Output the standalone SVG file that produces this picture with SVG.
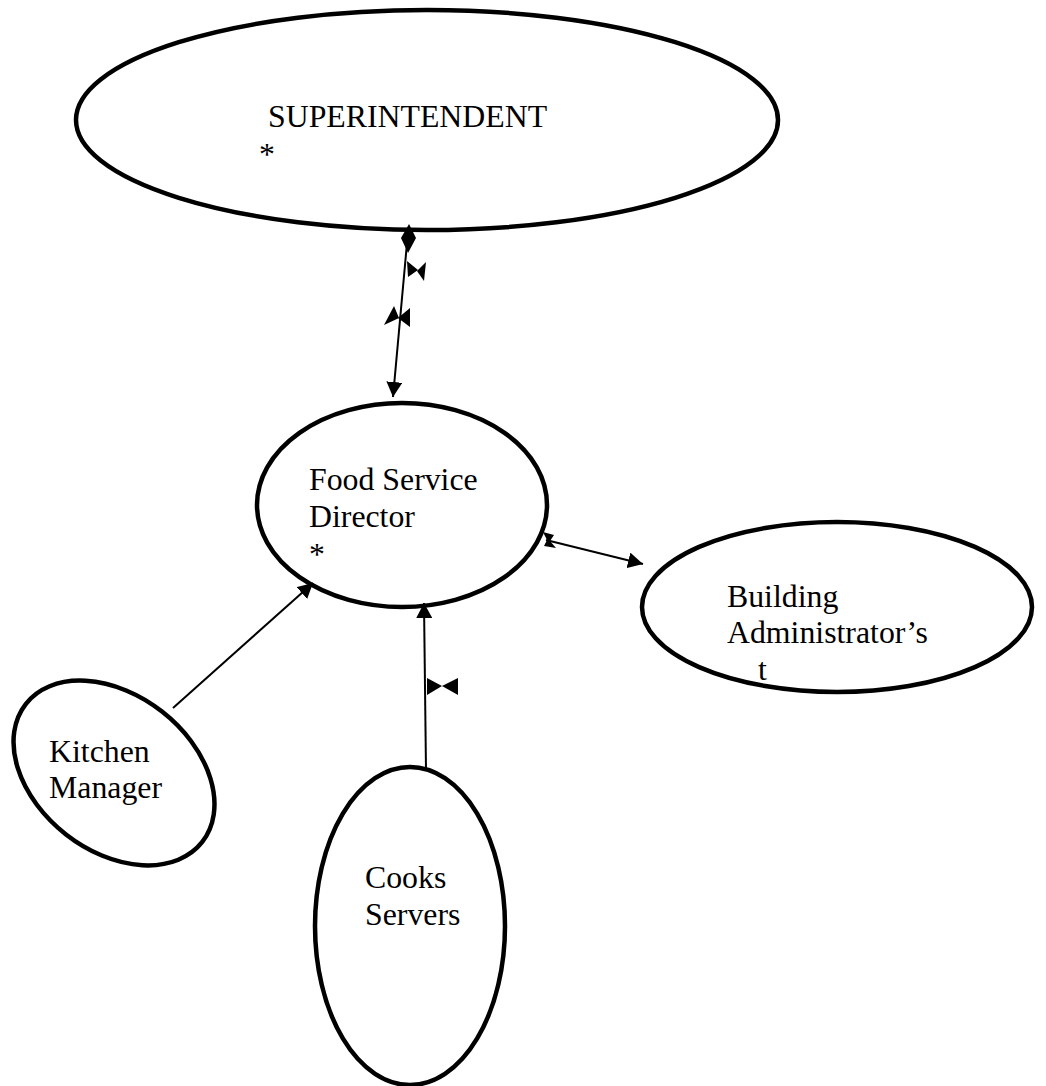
<svg xmlns="http://www.w3.org/2000/svg" width="1046" height="1086" viewBox="0 0 1046 1086">
<style>
.node ellipse{fill:#fff;stroke:#000;stroke-width:4.5}
text{font-family:"Liberation Serif","Times New Roman",serif;font-size:31.8px;fill:#000}
.conn line{stroke:#000;stroke-width:2}
.mk{fill:#000}
</style>
<defs>
<marker id="arr" markerUnits="userSpaceOnUse" markerWidth="16" markerHeight="16" refX="15" refY="8" orient="auto">
<path d="M0,0 L15,8 L0,16 Z" fill="#000"/>
</marker>
</defs>
<rect width="1046" height="1086" fill="#fff"/>
<g id="superintendent" class="node">
<ellipse cx="427" cy="120" rx="351" ry="110"/>
<text x="268" y="127">SUPERINTENDENT</text>
<text x="259" y="165">*</text>
</g>
<g id="food-service-director" class="node">
<ellipse cx="402" cy="505" rx="145" ry="102"/>
<text x="309" y="490">Food Service</text>
<text x="309" y="527">Director</text>
<text x="309" y="565">*</text>
</g>
<g id="building-administrators" class="node">
<ellipse cx="837" cy="607" rx="195" ry="85"/>
<text x="727" y="607">Building</text>
<text x="727" y="643">Administrator’s</text>
<text x="758" y="680">t</text>
</g>
<g id="kitchen-manager" class="node">
<ellipse cx="114" cy="773" rx="112" ry="78" transform="rotate(38 114 773)"/>
<text x="49" y="762">Kitchen</text>
<text x="49" y="798">Manager</text>
</g>
<g id="cooks-servers" class="node">
<ellipse cx="410" cy="926" rx="95" ry="159"/>
<text x="365" y="888">Cooks</text>
<text x="365" y="925">Servers</text>
</g>
<g id="connectors" class="conn">
<line x1="408" y1="232" x2="393" y2="397" marker-end="url(#arr)"/>
<polygon class="mk" points="409,224 416,238 408,253 401,238"/>
<polygon class="mk" points="407,261 408,277 418,270"/>
<polygon class="mk" points="426,262 424,281 417,271"/>
<polygon class="mk" points="384,325 394,306 399,318"/>
<polygon class="mk" points="410,308 410,327 398,318"/>
<line x1="546" y1="540" x2="643" y2="564" marker-end="url(#arr)"/>
<polygon class="mk" points="543,532 554,535 550,541 556,548 544,546 547,540"/>
<line x1="173" y1="708" x2="313" y2="583" marker-end="url(#arr)"/>
<line x1="426" y1="770" x2="424" y2="603" marker-end="url(#arr)"/>
<polygon class="mk" points="427,678 442,686 427,695"/>
<polygon class="mk" points="458,678 442,686 458,695"/>
</g>
</svg>
